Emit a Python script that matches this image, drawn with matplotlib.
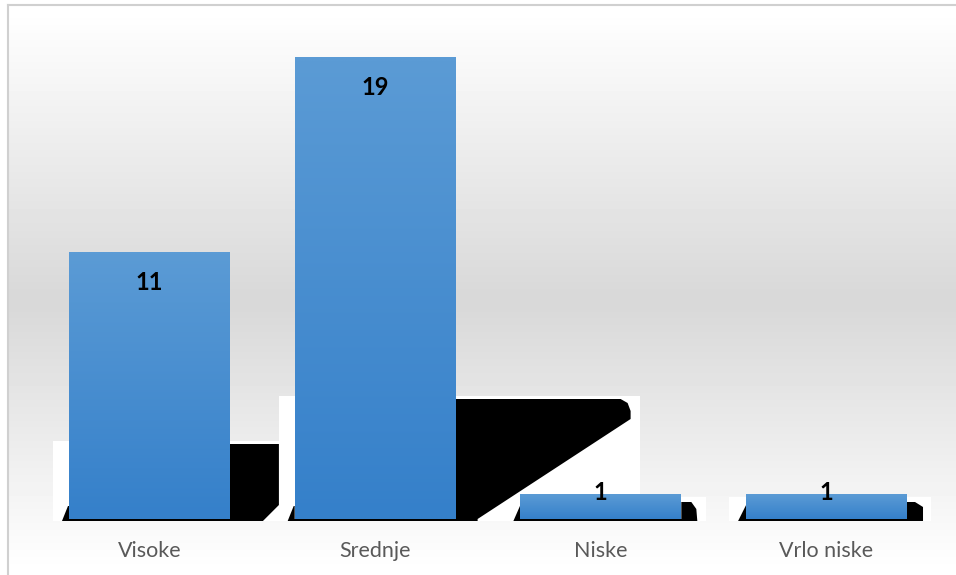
import numpy as np
import matplotlib
matplotlib.use("Agg")
import matplotlib.pyplot as plt
from matplotlib.patches import Polygon, Rectangle
from matplotlib.lines import Line2D

# data
categories = ["Visoke", "Srednje", "Niske", "Vrlo niske"]
counts = [11, 19, 1, 1]

# odd black "shadow" glitches seen in the original export, in pixels
# relative to each bar (left edge / right edge, baseline)
shadow_white = [(-16, 49, 78), (-16, 184, 123), (-7, 25, 22), (-17, 24, 22)]
shadow_right = [
    [(0, -2), (0, 75), (49, 75), (49, 14), (33, -2)],
    [(0, -2), (0, 120), (165, 120), (172, 116), (175, 108), (175, 100), (22, 0), (22, -2)],
    [(0, -2), (0, 17), (10, 17), (15, 10), (16, -2)],
    [(0, -2), (0, 17), (8, 17), (16, 12), (16, -2)],
]
shadow_left = [
    [(-7, -2), (-1, 13), (0, 13), (0, -2)],
    [(-7, -2), (-1, 13), (0, 13), (0, -2)],
    [(-7, -2), (0, 14), (0, -2)],
    [(-8, -2), (0, 14), (0, -2)],
]

plt.rcParams['font.family'] = ['Lato', 'DejaVu Sans']

W, H, DPI = 956, 575, 100
fig = plt.figure(figsize=(W / DPI, H / DPI), dpi=DPI)
fig.patch.set_facecolor("white")

# background gradient: white -> light gray -> white
bg = fig.add_axes([0, 0, 1, 1], zorder=-5)
rows = np.arange(H)
shade = np.interp(rows, [0, 10, 290, 310, 570, 575], [255, 255, 217, 217, 255, 255]) / 255
img = np.repeat(shade[:, None], 2, axis=1)
bg.imshow(img, cmap="gray", vmin=0, vmax=1, aspect="auto", extent=[0, 1, 0, 1])
bg.set_axis_off()
# white margin outside the chart frame + frame lines
fig.patches.append(Rectangle((0, 0), 7.5 / W, 1, transform=fig.transFigure,
                             facecolor="white", edgecolor="none", zorder=-4))
fig.patches.append(Rectangle((0, 1 - 4.5 / H), 1, 4.5 / H, transform=fig.transFigure,
                             facecolor="white", edgecolor="none", zorder=-4))
fig.lines.append(Line2D([7.5 / W, 1], [1 - 4.5 / H, 1 - 4.5 / H], transform=fig.transFigure,
                        color="#d0d0d0", lw=1.5))
fig.lines.append(Line2D([7.5 / W, 7.5 / W], [0, 1 - 4.5 / H], transform=fig.transFigure,
                        color="#d0d0d0", lw=1.5))

ax_l, ax_b, ax_w, ax_h = 36.6 / W, 56 / H, 902.8 / W, 485.4 / H
ax = fig.add_axes([ax_l, ax_b, ax_w, ax_h])
ax.set_facecolor("none")
ymax = 20
ax.set_xlim(-0.5, len(categories) - 0.5)
ax.set_ylim(0, ymax)

ux = (len(categories)) / (ax_w * W)   # data units per pixel
uy = ymax / (ax_h * H)

x = np.arange(len(categories))
bars = ax.bar(x, counts, width=0.713, color="#4a8fd2", zorder=3)

top_c = np.array([91, 155, 213]) / 255
bot_c = np.array([53, 128, 202]) / 255
grad = np.linspace(0, 1, 64)[:, None, None]
grad_img = top_c * (1 - grad) + bot_c * grad

for i, b in enumerate(bars):
    x0, w, h = b.get_x(), b.get_width(), b.get_height()
    x1 = x0 + w
    wl, wr, wt = shadow_white[i]
    ax.add_patch(Rectangle((x0 + wl * ux, -1.5 * uy), (x1 + wr * ux) - (x0 + wl * ux),
                           (wt + 1.5) * uy, facecolor="white", edgecolor="none",
                           zorder=1, clip_on=False))
    ax.add_patch(Polygon([(x1 + px * ux, py * uy) for px, py in shadow_right[i]],
                         closed=True, facecolor="black", edgecolor="none", zorder=2, clip_on=False))
    ax.add_patch(Polygon([(x0 + px * ux, py * uy) for px, py in shadow_left[i]],
                         closed=True, facecolor="black", edgecolor="none", zorder=2, clip_on=False))
    ax.add_patch(Rectangle((x0 - 2 * ux, -2 * uy), w + 4 * ux, 2 * uy,
                           facecolor="black", edgecolor="none", zorder=2, clip_on=False))
    ax.imshow(grad_img, extent=[x0, x1, 0, h], aspect="auto", zorder=4, interpolation="bilinear")

    # value labels
    if h / uy > 60:
        off = -30
    else:
        off = 2.5
    ax.annotate(str(counts[i]), (x[i], h), xytext=(0, off), textcoords="offset pixels",
                ha="center", va="center", fontsize=17, fontweight="bold", color="black", zorder=6)

ax.set_xlim(-0.5, len(categories) - 0.5)
ax.set_ylim(0, ymax)
ax.set_xticks(x, categories)
ax.tick_params(axis="x", length=0, pad=15.5, labelsize=15.5, labelcolor="#595959")
ax.set_yticks([])
for s in ax.spines.values():
    s.set_visible(False)

fig.savefig("out.png", dpi=DPI)
